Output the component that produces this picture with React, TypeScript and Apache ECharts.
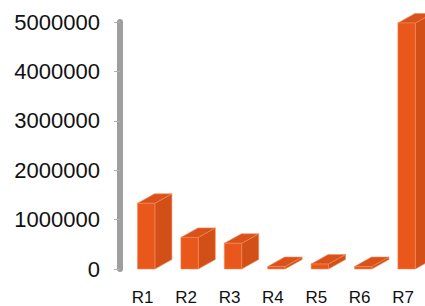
import React, { useEffect, useRef } from "react";
import * as echarts from "echarts";

const categories = ["R1", "R2", "R3", "R4", "R5", "R6", "R7"];
const values = [1330000, 640000, 520000, 50000, 100000, 50000, 4980000];
const yTicks = [0, 1000000, 2000000, 3000000, 4000000, 5000000];

export default function App() {
  const ref = useRef<HTMLDivElement>(null);
  useEffect(() => {
    if (!ref.current) return;
    const chart = echarts.init(ref.current, null, { renderer: "svg" });
    const DX = 17;
    const DY = -9.5;
    const L = -5.2;
    const R = 12.2;
    chart.setOption({
      animation: false,
      backgroundColor: "#ffffff",
      grid: { left: 121, width: 303.8, top: 22, bottom: 36, containLabel: false },
      xAxis: {
        type: "category",
        data: categories,
        axisLine: { show: false },
        axisTick: { show: false },
        axisLabel: {
          color: "#111",
          fontFamily: "Liberation Sans, Arial, sans-serif",
          fontSize: 17,
          margin: 20,
        },
      },
      yAxis: {
        type: "value",
        min: yTicks[0],
        max: yTicks[yTicks.length - 1],
        interval: 1000000,
        offset: 1,
        splitLine: { show: false },
        axisLine: {
          show: true,
          onZero: false,
          lineStyle: { color: "#9e9e9e", width: 6 },
        },
        axisTick: { show: true, length: 6, lineStyle: { color: "#b0b0b0", width: 1 } },
        axisLabel: {
          color: "#111",
          fontFamily: "Liberation Sans, Arial, sans-serif",
          fontSize: 22,
          margin: 20,
          padding: [5, 0, 0, 0],
          formatter: (v: number) => String(v),
        },
      },
      series: [
        {
          type: "custom",
          data: values.map((v, i) => [i, v]),
          encode: { x: 0, y: 1 },
          renderItem: (params: any, api: any) => {
            const top = api.coord([api.value(0), api.value(1)]);
            const base = api.coord([api.value(0), 0]);
            const cx = top[0];
            const x0 = cx + L;
            const x1 = cx + R;
            const yT = top[1];
            const yB = base[1];
            const edge = { stroke: "#f08a5c", lineWidth: 0.6 };
            return {
              type: "group",
              children: [
                {
                  type: "polygon",
                  shape: {
                    points: [
                      [x1, yT],
                      [x1 + DX, yT + DY],
                      [x1 + DX, yB + DY],
                      [x1, yB],
                    ],
                  },
                  style: { fill: "#d24f17", ...edge },
                },
                {
                  type: "polygon",
                  shape: {
                    points: [
                      [x0, yT],
                      [x0 + DX, yT + DY],
                      [x1 + DX, yT + DY],
                      [x1, yT],
                    ],
                  },
                  style: { fill: "#d9521a", ...edge },
                },
                {
                  type: "rect",
                  shape: { x: x0, y: yT, width: x1 - x0, height: yB - yT },
                  style: { fill: "#e9581a", ...edge },
                },
              ],
            };
          },
        },
      ],
    });
    return () => chart.dispose();
  }, []);
  return (
    <div
      ref={ref}
      style={{ position: "fixed", left: 0, top: 0, width: 425, height: 306 }}
    />
  );
}
